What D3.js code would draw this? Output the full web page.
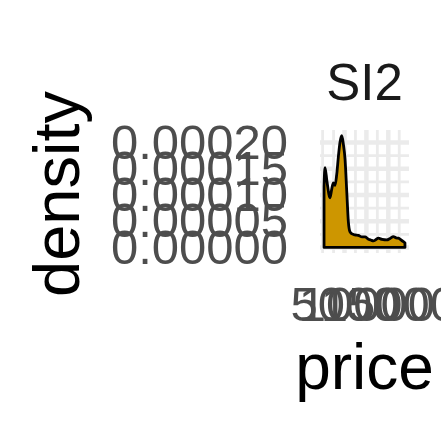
<!DOCTYPE html>
<html>
<head>
<meta charset="utf-8">
<script src="https://cdn.jsdelivr.net/npm/d3@7"></script>
<style>
  html, body { margin: 0; padding: 0; background: #ffffff; }
  svg { display: block; font-family: "Liberation Sans", Arial, Helvetica, sans-serif; }
</style>
</head>
<body>
<script>
// ---- data ----
const facetLabel = "SI2";
const xTitle = "price";
const yTitle = "density";
const priceRange = [326, 18804];
const price = [326, 550, 1000, 1690, 2100, 2450, 2840, 3220, 3590, 3980, 4370, 4730, 5120, 5510, 5880, 6260, 6720, 7410, 8160, 9010, 9690, 10380, 11000, 11590, 12200, 12730, 13580, 14650, 15410, 16160, 16780, 17310, 17920, 18450, 18804];
const density = [0.000115, 0.000152, 0.000125, 0.0000946, 0.000112, 0.000123, 0.000118, 0.000139, 0.000172, 0.000201, 0.000213, 0.000197, 0.000168, 0.000107, 0.0000488, 0.0000296, 0.0000257, 0.0000238, 0.0000229, 0.000020, 0.000020, 0.0000162, 0.0000140, 0.0000123, 0.0000150, 0.0000175, 0.0000152, 0.0000142, 0.0000171, 0.0000206, 0.0000181, 0.0000175, 0.0000142, 0.000011, 0.0000085];
const xTicks = [5000, 10000, 15000];
const xMinor = [0, 2500, 7500, 12500, 17500];
const yTicks = [0, 0.00005, 0.0001, 0.00015, 0.0002];
const yMinor = [0.000025, 0.000075, 0.000125, 0.000175, 0.000225];
const yTickLabels = ["0.00000", "0.00005", "0.00010", "0.00015", "0.00020"];
const fillColor = "#CD9600";

// ---- layout ----
const W = 441, H = 441;
const panel = { left: 320, right: 409, top: 130, bottom: 253 };

const svg = d3.select("body").append("svg").attr("width", W).attr("height", H);
svg.append("rect").attr("width", W).attr("height", H).attr("fill", "#ffffff");

const xPad = (priceRange[1] - priceRange[0]) * 0.05;
const x = d3.scaleLinear()
  .domain([priceRange[0] - xPad, priceRange[1] + xPad])
  .range([panel.left, panel.right]);
const yMax = d3.max(density);
const y = d3.scaleLinear()
  .domain([-0.05 * yMax, 1.05 * yMax])
  .range([panel.bottom, panel.top]);

const grid = svg.append("g");
grid.selectAll("line.xmin").data(xMinor.filter(v => v >= x.domain()[0] && v <= x.domain()[1]))
  .join("line").attr("x1", d => x(d)).attr("x2", d => x(d))
  .attr("y1", panel.top).attr("y2", panel.bottom)
  .attr("stroke", "#EBEBEB").attr("stroke-width", 2.8);
grid.selectAll("line.ymin").data(yMinor.filter(v => v >= y.domain()[0] && v <= y.domain()[1]))
  .join("line").attr("y1", d => y(d)).attr("y2", d => y(d))
  .attr("x1", panel.left).attr("x2", panel.right)
  .attr("stroke", "#EBEBEB").attr("stroke-width", 2.8);
grid.selectAll("line.xmaj").data(xTicks)
  .join("line").attr("x1", d => x(d)).attr("x2", d => x(d))
  .attr("y1", panel.top).attr("y2", panel.bottom)
  .attr("stroke", "#EBEBEB").attr("stroke-width", 4.5);
grid.selectAll("line.ymaj").data(yTicks)
  .join("line").attr("y1", d => y(d)).attr("y2", d => y(d))
  .attr("x1", panel.left).attr("x2", panel.right)
  .attr("stroke", "#EBEBEB").attr("stroke-width", 4.5);

// density area (full outline)
const pts = price.map((p, i) => [p, density[i]]);
const poly = [[price[0], 0], ...pts, [price[price.length - 1], 0]];
const line = d3.line().x(d => x(d[0])).y(d => y(d[1])).curve(d3.curveMonotoneX);
svg.append("path")
  .attr("d", line(poly) + "Z")
  .attr("fill", fillColor)
  .attr("stroke", "#000000")
  .attr("stroke-width", 2.8)
  .attr("stroke-linejoin", "round");

// axes (text only, like theme_minimal)
const yAxis = d3.axisLeft(y).tickValues(yTicks).tickFormat((d, i) => yTickLabels[i]).tickSize(0).tickPadding(32);
const gy = svg.append("g").attr("transform", `translate(${panel.left},0)`).call(yAxis);
gy.select(".domain").remove();
gy.selectAll("text").attr("font-size", 49).attr("fill", "#4D4D4D")
  .attr("font-family", "Liberation Sans, Arial, sans-serif");

const xAxis = d3.axisBottom(x).tickValues(xTicks).tickFormat(d3.format("d")).tickSize(0).tickPadding(33);
const gx = svg.append("g").attr("transform", `translate(0,${panel.bottom})`).call(xAxis);
gx.select(".domain").remove();
gx.selectAll("text").attr("font-size", 49).attr("fill", "#4D4D4D")
  .attr("font-family", "Liberation Sans, Arial, sans-serif");

// strip label
svg.append("text").attr("x", (panel.left + panel.right) / 2).attr("y", 100)
  .attr("text-anchor", "middle").attr("font-size", 51).attr("fill", "#1A1A1A")
  .text(facetLabel);

// axis titles
svg.append("text").attr("x", (panel.left + panel.right) / 2).attr("y", 389)
  .attr("text-anchor", "middle").attr("font-size", 64).attr("fill", "#000000")
  .text(xTitle);
svg.append("text").attr("transform", `translate(79,194) rotate(-90)`)
  .attr("text-anchor", "middle").attr("font-size", 65).attr("fill", "#000000")
  .text(yTitle);
</script>
</body>
</html>
